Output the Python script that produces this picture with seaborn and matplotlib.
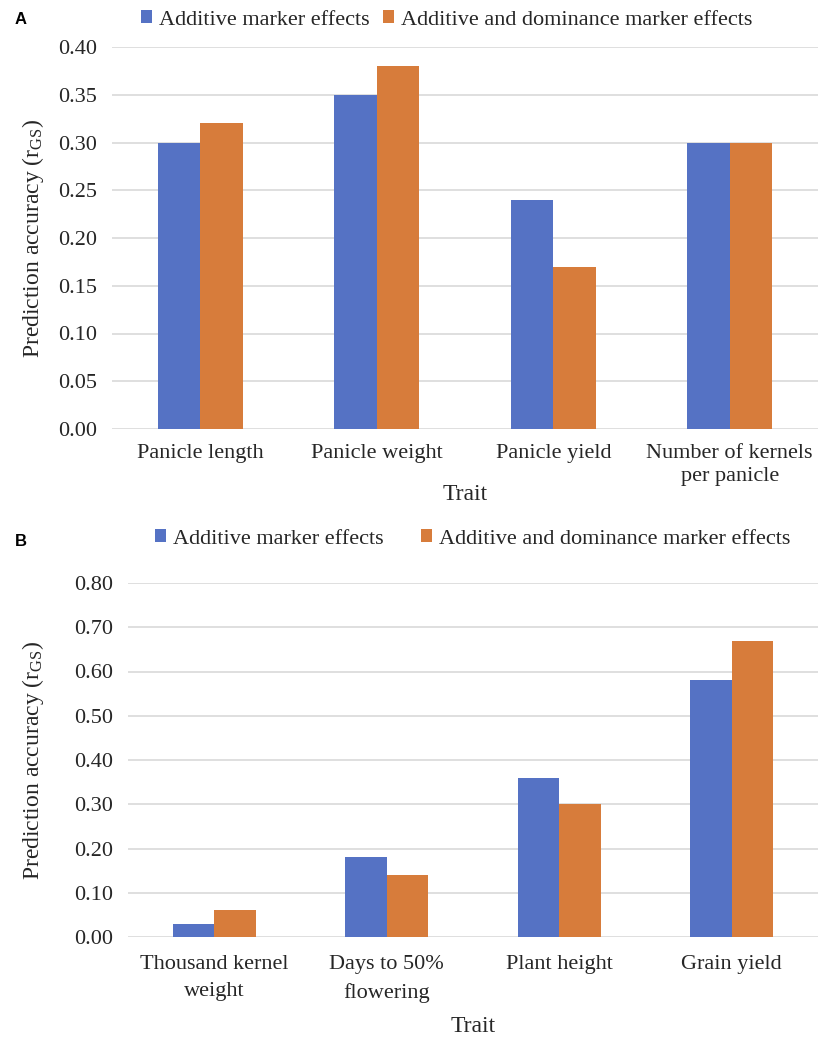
import matplotlib
matplotlib.use("Agg")
import matplotlib.pyplot as plt
import seaborn as sns
import pandas as pd
from matplotlib.patches import Patch

sns.set_theme(style="white")
plt.rcParams["font.family"] = ["Liberation Serif", "DejaVu Serif"]
plt.rcParams["mathtext.fontset"] = "custom"
plt.rcParams["mathtext.rm"] = "Liberation Serif"
plt.rcParams["mathtext.it"] = "Liberation Serif:italic"

# Panel A data
traits_a = ["Panicle length", "Panicle weight", "Panicle yield", "Number of kernels\nper panicle"]
additive_a = [0.30, 0.35, 0.24, 0.30]
dominance_a = [0.32, 0.38, 0.17, 0.30]
yticks_a = [0.00, 0.05, 0.10, 0.15, 0.20, 0.25, 0.30, 0.35, 0.40]

# Panel B data
traits_b = ["Thousand kernel\nweight", "Days to 50%\nflowering", "Plant height", "Grain yield"]
additive_b = [0.03, 0.18, 0.36, 0.58]
dominance_b = [0.06, 0.14, 0.30, 0.67]
yticks_b = [0.00, 0.10, 0.20, 0.30, 0.40, 0.50, 0.60, 0.70, 0.80]

series_names = ["Additive marker effects", "Additive and dominance marker effects"]
colors = ["#5572C4", "#D77C3B"]
grid_color = "#D9D9D9"
text_color = "#262626"

W, H = 818, 1040
fig = plt.figure(figsize=(W / 100, H / 100), dpi=100)


def make_df(traits, add, dom):
    return pd.DataFrame({
        "Trait": traits * 2,
        "value": add + dom,
        "Model": [series_names[0]] * len(traits) + [series_names[1]] * len(traits),
    })


def draw_panel(box, traits, add, dom, yticks, letter, letter_y, legend_y, legend_x,
               colspace, xtick_pad, xlabel_y, line_sp):
    x0, y0, x1, y1 = box
    ax = fig.add_axes([x0 / W, 1 - y1 / H, (x1 - x0) / W, (y1 - y0) / H])
    df = make_df(traits, add, dom)
    sns.barplot(data=df, x="Trait", y="value", hue="Model", palette=colors,
                width=0.48, gap=0, saturation=1, linewidth=0, ax=ax, legend=False,
                zorder=3)
    ax.set_ylim(yticks[0], yticks[-1])
    ax.set_xlim(-0.5, len(traits) - 0.5)
    ax.set_yticks(yticks, labels=[f"{t:.2f}" for t in yticks])
    ax.set_xticks(range(len(traits)), labels=traits)
    ax.yaxis.grid(True, color=grid_color, linewidth=1.2, zorder=0)
    ax.set_axisbelow(True)
    for s in ax.spines.values():
        s.set_visible(False)
    ax.tick_params(axis="both", length=0, labelsize=16, colors=text_color)
    ax.tick_params(axis="x", pad=xtick_pad)
    ax.tick_params(axis="y", pad=11)
    plt.setp(ax.get_xticklabels(), linespacing=line_sp)
    ax.set_xlabel("Trait", fontsize=17, color=text_color, va="center")
    ax.xaxis.set_label_coords(0.5, -(xlabel_y - y1) / (y1 - y0))
    ax.set_ylabel(r"Prediction accuracy (r$_{\mathrm{GS}}$)", fontsize=17,
                  color=text_color, va="center")
    ax.yaxis.set_label_coords(-(x0 - 33) / (x1 - x0), 0.5)
    fig.text(15 / W, 1 - letter_y / H, letter, fontsize=12, fontweight="bold",
             family="Liberation Sans", va="center", ha="left", color="black")
    handles = [Patch(facecolor=c, edgecolor="none") for c in colors]
    fig.legend(handles, series_names, loc="center left",
               bbox_to_anchor=(legend_x / W, 1 - legend_y / H), ncol=2, frameon=False,
               fontsize=16, handlelength=0.5, handleheight=0.5, handletextpad=0.3,
               columnspacing=colspace, labelcolor=text_color, borderaxespad=0,
               borderpad=0)
    return ax


# Panel A: axes spans x 112..818, y 47..429 (pixels)
draw_panel((112, 47, 818, 429), traits_a, additive_a, dominance_a, yticks_a,
           "A", 20, 20, 141, 0.6, 11, 494, 1.3)

# Panel B: axes spans x 128..818, y 583..937 (pixels)
draw_panel((128, 583, 818, 937), traits_b, additive_b, dominance_b, yticks_b,
           "B", 541, 539, 155, 1.7, 13, 1027, 1.6)

fig.savefig("out.png", dpi=100)
